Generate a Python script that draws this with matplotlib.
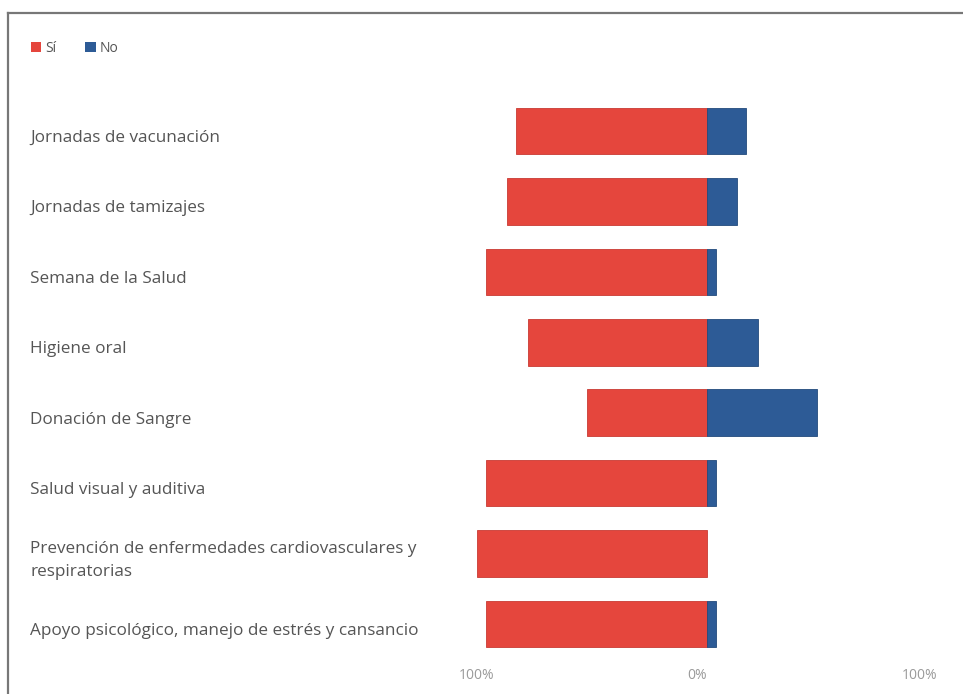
import numpy as np
import matplotlib.pyplot as plt
from matplotlib.patches import Patch
from matplotlib.lines import Line2D
from matplotlib.transforms import blended_transform_factory

categories = [
    "Jornadas de vacunación",
    "Jornadas de tamizajes",
    "Semana de la Salud",
    "Higiene oral",
    "Donación de Sangre",
    "Salud visual y auditiva",
    "Prevención de enfermedades cardiovasculares y\nrespiratorias",
    "Apoyo psicológico, manejo de estrés y cansancio",
]
si_pct = [83, 87, 96, 78, 52, 96, 100, 96]
no_pct = [17, 13, 4, 22, 48, 4, 0, 4]
tick_values = [-100, 0, 100]
tick_labels = ["100%", "0%", "100%"]

red = "#E5463D"
blue = "#2D5B96"
text_color = "#555555"

plt.rcParams["font.family"] = ["Open Sans", "DejaVu Sans"]

W, H = 963, 694
fig = plt.figure(figsize=(W / 100, H / 100), dpi=100)
fig.patch.set_facecolor("white")

# axes placed in pixel terms: -100% at x=477, +100% at x=937
ax = fig.add_axes([477 / W, 1 - 659.2 / H, 460 / W, 563.4 / H])

y = np.arange(len(categories))
ax.barh(y, [-v for v in si_pct], height=0.66, color=red,
        edgecolor=["#c93a33" if v else "none" for v in si_pct], linewidth=0.6)
ax.barh(y, no_pct, height=0.66, color=blue,
        edgecolor=["#234a7c" if v else "none" for v in no_pct], linewidth=0.6)

ax.set_xlim(-100, 100)
ax.set_ylim(len(categories) - 0.5, -0.5)
for s in ax.spines.values():
    s.set_visible(False)
ax.set_yticks([])
ax.set_xticks(tick_values)
ax.set_xticklabels(tick_labels, color="#9a9a9a", fontsize=10)
ax.tick_params(axis="x", length=0, pad=6)
labels = ax.get_xticklabels()
labels[1].set_ha("right")
labels[2].set_ha("right")

# category labels on the left, left aligned
trans = blended_transform_factory(fig.transFigure, ax.transData)
for yi, cat in zip(y, categories):
    ax.text(30 / W, yi + 0.1, cat, transform=trans,
            ha="left", va="center", fontsize=12.3, color=text_color, linespacing=1.55)

fig.legend(
    handles=[Patch(facecolor=red, label="Sí"), Patch(facecolor=blue, label="No")],
    loc="center left",
    bbox_to_anchor=(18 / W, 1 - 48 / H),
    ncol=2,
    frameon=False,
    fontsize=10,
    handlelength=0.75,
    handleheight=0.75,
    handletextpad=0.3,
    columnspacing=2.1,
    labelcolor=text_color,
)

# page frame
fig.add_artist(Line2D([8 / W, 8 / W], [0, 1 - 13 / H], transform=fig.transFigure, color="#777777", lw=1.6))
fig.add_artist(Line2D([8 / W, 1], [1 - 13 / H, 1 - 13 / H], transform=fig.transFigure, color="#777777", lw=1.6))

plt.savefig("out.png", dpi=100)
